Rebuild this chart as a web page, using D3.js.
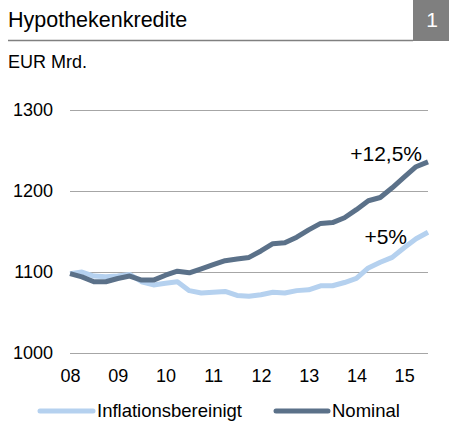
<!DOCTYPE html>
<html><head><meta charset="utf-8">
<script src="https://cdn.jsdelivr.net/npm/d3@7"></script>
<style>body{margin:0;background:#fff}svg{display:block;font-family:"Liberation Sans",Arial,sans-serif}</style>
</head><body>
<script>
const quarters = d3.range(31); // 2008 Q1 .. 2015 Q3, index of quarter
const nominal = [1098,1094,1088,1088,1092,1095,1090,1090,1096,1101,1099,1104,1109,1114,1116,1118,1126,1135,1136,1143,1152,1160,1161,1167,1177,1188,1192,1204,1217,1230,1236];
const inflationsbereinigt = [1098,1100,1095,1094,1095,1097,1088,1084,1086,1088,1077,1074,1075,1076,1071,1070,1072,1075,1074,1077,1078,1083,1083,1087,1092,1105,1112,1118,1130,1141,1149];
const yTicks = [1000,1100,1200,1300];
const xTickLabels = ["08","09","10","11","12","13","14","15"];
const seriesNames = ["Inflationsbereinigt","Nominal"];
const colors = {"Inflationsbereinigt":"#b5d1ef","Nominal":"#5b7189"};

const W=449,H=430;
const svg=d3.select("body").append("svg").attr("width",W).attr("height",H);

// header
svg.append("text").attr("x",8).attr("y",27).attr("font-size",21.5).attr("fill","#000").text("Hypothekenkredite");
svg.append("line").attr("x1",8).attr("x2",413).attr("y1",40.5).attr("y2",40.5).attr("stroke","#808080").attr("stroke-width",1.5);
svg.append("rect").attr("x",413).attr("y",0).attr("width",36).attr("height",41).attr("fill","#7f7f7f");
svg.append("text").attr("x",432).attr("y",27).attr("font-size",21).attr("fill","#fff").attr("text-anchor","middle").text("1");
svg.append("text").attr("x",8).attr("y",68).attr("font-size",18).attr("fill","#000").text("EUR Mrd.");

const x=d3.scaleLinear().domain([0,30]).range([70,428]);
const y=d3.scaleLinear().domain([1000,1300]).range([353,110]);

// grid
const yAxis=d3.axisLeft(y).tickValues(yTicks).tickSize(-(428-70)).tickPadding(17).tickFormat(d3.format("d"));
const gy=svg.append("g").attr("transform","translate(70,0)").call(yAxis);
gy.select(".domain").remove();
gy.selectAll(".tick line").attr("stroke","#a6a6a6").attr("stroke-width",1);
gy.selectAll(".tick text").attr("font-size",18).attr("fill","#000").attr("font-family","Liberation Sans, Arial, sans-serif");

const xAxis=d3.axisBottom(x).tickValues(xTickLabels.map((d,i)=>i*4)).tickFormat((d,i)=>xTickLabels[i]).tickSize(0).tickPadding(16);
const gx=svg.append("g").attr("transform","translate(0,353)").call(xAxis);
gx.select(".domain").remove();
gx.selectAll(".tick text").attr("font-size",18).attr("fill","#000").attr("font-family","Liberation Sans, Arial, sans-serif");

const line=d3.line().x((d,i)=>x(quarters[i])).y(d=>y(d));
svg.append("path").datum(inflationsbereinigt).attr("d",line).attr("fill","none").attr("stroke",colors["Inflationsbereinigt"]).attr("stroke-width",5).attr("stroke-linejoin","round");
svg.append("path").datum(nominal).attr("d",line).attr("fill","none").attr("stroke",colors["Nominal"]).attr("stroke-width",5).attr("stroke-linejoin","round");

svg.append("text").attr("x",422).attr("y",161).attr("font-size",21).attr("text-anchor","end").text("+12,5%");
svg.append("text").attr("x",407).attr("y",244).attr("font-size",21).attr("text-anchor","end").text("+5%");

// legend
const leg=[{n:"Inflationsbereinigt",x1:40,x2:93,tx:97},{n:"Nominal",x1:276,x2:328,tx:332}];
leg.forEach(l=>{
  svg.append("line").attr("x1",l.x1).attr("x2",l.x2).attr("y1",411).attr("y2",411).attr("stroke",colors[l.n]).attr("stroke-width",5).attr("stroke-linecap","round");
  svg.append("text").attr("x",l.tx).attr("y",417).attr("font-size",18.5).text(l.n);
});
</script>
</body></html>
